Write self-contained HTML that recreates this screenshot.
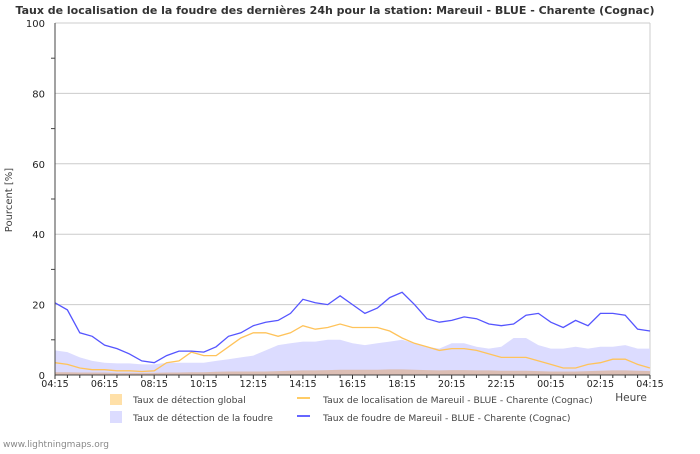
<!DOCTYPE html>
<html><head><meta charset="utf-8"><style>
body{margin:0;background:#fff;font-family:"DejaVu Sans","Liberation Sans",sans-serif;}
svg text{font-family:"DejaVu Sans","Liberation Sans",sans-serif;}
</style></head><body>
<svg id="c" width="700" height="450" viewBox="0 0 700 450" xmlns="http://www.w3.org/2000/svg">
<rect width="700" height="450" fill="#fff"/>
<text x="335" y="14" text-anchor="middle" font-size="11" font-weight="bold" fill="#333">Taux de localisation de la foudre des dernières 24h pour la station: Mareuil - BLUE - Charente (Cognac)</text>
<g id="grid"></g>
<g id="areas"></g>
<g id="lines"></g>
<g id="axes"></g>
<text transform="translate(12,200) rotate(-90)" text-anchor="middle" font-size="10" fill="#444">Pourcent   [%]</text>
<text x="631" y="401" text-anchor="middle" font-size="10.5" fill="#444">Heure</text>
<g font-size="9.2" fill="#444">
<rect x="110" y="394" width="12" height="11" fill="#ffe0a8"/>
<text x="133" y="403">Taux de détection global</text>
<rect x="110" y="411" width="12" height="12" fill="#dcdcff"/>
<text x="133" y="421">Taux de détection de la foudre</text>
<line x1="297" y1="398" x2="310" y2="398" stroke="#ffcc66" stroke-width="2"/>
<text x="323" y="403">Taux de localisation de Mareuil - BLUE - Charente (Cognac)</text>
<line x1="297" y1="416" x2="310" y2="416" stroke="#6666ff" stroke-width="2"/>
<text x="323" y="421">Taux de foudre de Mareuil - BLUE - Charente (Cognac)</text>
</g>
<text x="3" y="447" font-size="9" fill="#888">www.lightningmaps.org</text>
</svg>
<script>
const xLabels=["04:15","06:15","08:15","10:15","12:15","14:15","16:15","18:15","20:15","22:15","00:15","02:15","04:15"];
const yTicks=[0,20,40,60,80,100];
const foudre=[20.5,18.5,12,11,8.5,7.5,6,4,3.5,5.5,6.8,6.8,6.5,8,11,12,14,15,15.5,17.5,21.5,20.5,20,22.5,20,17.5,19,22,23.5,20,16,15,15.5,16.5,16,14.5,14,14.5,17,17.5,15,13.5,15.5,14,17.5,17.5,17,13,12.5];
const localisation=[3.5,3,2,1.5,1.5,1.2,1.2,1,1.2,3.5,4,6.5,5.5,5.5,8,10.5,12,12,11,12,14,13,13.5,14.5,13.5,13.5,13.5,12.5,10.5,9,8,7,7.5,7.5,7,6,5,5,5,4,3,2,2,3,3.5,4.5,4.5,3,2];
const detection=[7,6.5,5,4,3.5,3.3,3.3,3,3,3.5,3.5,3.5,3.5,4,4.5,5,5.5,7,8.5,9,9.5,9.5,10,10,9,8.5,9,9.5,10,9,8,7.5,9,9,8,7.5,8,10.5,10.5,8.5,7.5,7.5,8,7.5,8,8,8.5,7.5,7.5];
const globalDet=[0.8,0.8,0.7,0.7,0.7,0.6,0.6,0.6,0.6,0.7,0.7,0.8,0.8,0.9,1,1,1,1,1.1,1.2,1.3,1.3,1.4,1.5,1.5,1.5,1.5,1.6,1.6,1.5,1.4,1.3,1.4,1.4,1.3,1.3,1.2,1.2,1.2,1.1,1,1,1,1.1,1.2,1.3,1.3,1.2,1.1];
const NS="http://www.w3.org/2000/svg";
const X0=55,X1=650,Y0=375,Y1=23;
const xs=i=>X0+(X1-X0)*i/(foudre.length-1);
const ys=v=>Y0-(Y0-Y1)*v/100;
function mk(t,a,p){const e=document.createElementNS(NS,t);for(const k in a)e.setAttribute(k,a[k]);p.appendChild(e);return e;}
const grid=document.getElementById('grid'),axes=document.getElementById('axes'),areas=document.getElementById('areas'),lines=document.getElementById('lines');
yTicks.forEach(v=>{
 const g=mk('line',{x1:X0,x2:X1,y1:ys(v),y2:ys(v),stroke:'#ccc','stroke-width':1},grid);
 
 
 const t=mk('text',{x:45,y:ys(v)+4,'text-anchor':'end','font-size':10,fill:'#222'},axes);
 t.textContent=v;
 
 
});
for(let v=10;v<100;v+=20){const m=mk('line',{x1:51,x2:55,y1:ys(v),y2:ys(v),stroke:'#444'},axes);
 
 }
mk('line',{x1:X1,x2:X1,y1:Y1,y2:Y0,stroke:'#ccc'},grid);
function area(arr,fill,name){
 let d='M'+xs(0)+','+ys(0);
 arr.forEach((v,i)=>d+=' L'+xs(i).toFixed(1)+','+ys(v).toFixed(1));
 d+=' L'+xs(arr.length-1)+','+ys(0)+' Z';
 const p=mk('path',{d:d,fill:fill},areas);
 
 
}
function line(arr,col,name){
 const pts=arr.map((v,i)=>xs(i).toFixed(1)+','+ys(v).toFixed(1)).join(' ');
 const p=mk('polyline',{points:pts,fill:'none',stroke:col,'stroke-width':1.3},lines);
 
 
}
area(detection,'#dcdcff','detection-area');
area(globalDet,'rgba(220,170,130,0.6)','global-detection-area');
line(localisation,'#ffc35a','localisation-line');
line(foudre,'#5555ff','foudre-line');
mk('line',{x1:X0,x2:X0,y1:Y1,y2:Y0,stroke:'#444'},axes);
mk('line',{x1:X0,x2:X1,y1:Y0,y2:Y0,stroke:'#444'},axes);
for(let i=0;i<foudre.length;i++){const m=mk('line',{x1:xs(i),x2:xs(i),y1:Y0,y2:Y0+(i%4==0?4:3),stroke:'#333'},axes);
 
 }
xLabels.forEach((l,i)=>{
 const t=mk('text',{x:X0+(X1-X0)*i/(xLabels.length-1),y:387,'text-anchor':'middle','font-size':9.5,fill:'#222'},axes);
 t.textContent=l;
 
 
});
</script>
</body></html>
